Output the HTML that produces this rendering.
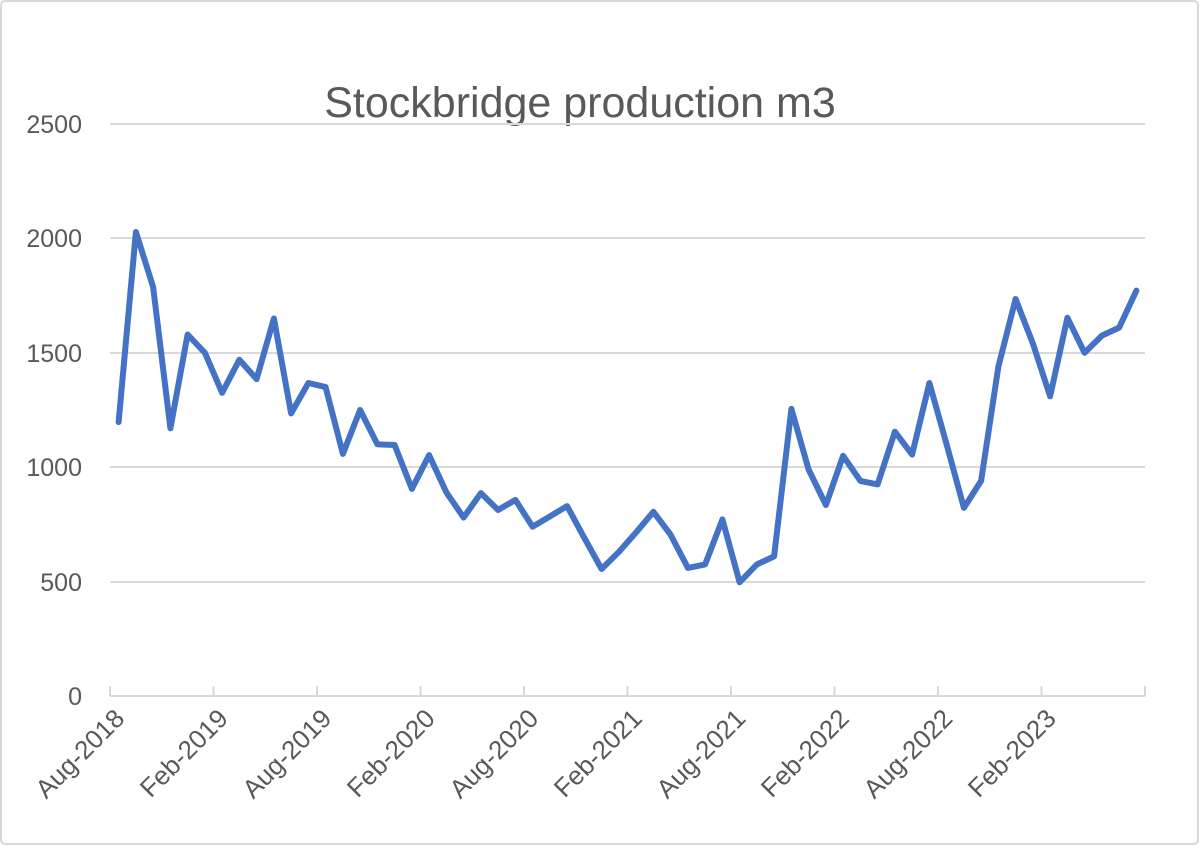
<!DOCTYPE html>
<html><head><style>
html,body{margin:0;padding:0;background:#fff;}
svg{display:block;font-family:"Liberation Sans",sans-serif;}
</style></head><body>
<svg width="1200" height="846" viewBox="0 0 1200 846" xmlns="http://www.w3.org/2000/svg">
<rect x="1" y="1" width="1197" height="843" rx="4" fill="#fff" stroke="#d9d9d9" stroke-width="2"/>
<text x="580" y="117" text-anchor="middle" font-size="43" fill="#595959">Stockbridge production m3</text>
<g stroke="#d9d9d9" stroke-width="2">
<line x1="110" y1="124" x2="1145" y2="124"/>
<line x1="110" y1="238" x2="1145" y2="238"/>
<line x1="110" y1="353" x2="1145" y2="353"/>
<line x1="110" y1="467" x2="1145" y2="467"/>
<line x1="110" y1="582" x2="1145" y2="582"/>
<line x1="110" y1="696" x2="1145" y2="696"/>
</g>
<g id="ticks" stroke="#d9d9d9" stroke-width="2"></g>
<g font-size="25" fill="#595959" text-anchor="end">
<text x="82" y="133">2500</text>
<text x="82" y="247">2000</text>
<text x="82" y="362">1500</text>
<text x="82" y="476">1000</text>
<text x="82" y="591">500</text>
<text x="82" y="705">0</text>
</g>
<g id="xl" font-size="26" fill="#595959" text-anchor="end"></g>
<polyline id="ln" fill="none" stroke="#4472c4" stroke-width="6" stroke-linejoin="round" stroke-linecap="round"/>
</svg>
<script>
var v=[1197,2028,1788,1170,1580,1500,1325,1470,1385,1650,1235,1368,1350,1058,1250,1100,1097,905,1053,890,780,887,813,857,740,785,830,690,555,630,715,805,705,560,575,772,497,575,610,1255,990,835,1050,940,925,1155,1055,1368,1100,822,940,1440,1735,1540,1310,1653,1500,1575,1610,1772];
var w=1035/60,p=[];
for(var i=0;i<v.length;i++){p.push((110+w*(i+0.5)).toFixed(1)+","+(696-v[i]*572/2500).toFixed(1));}
document.getElementById("ln").setAttribute("points",p.join(" "));
var ns="http://www.w3.org/2000/svg",t=document.getElementById("ticks"),xl=document.getElementById("xl");
var labs=["Aug-2018","Feb-2019","Aug-2019","Feb-2020","Aug-2020","Feb-2021","Aug-2021","Feb-2022","Aug-2022","Feb-2023"];
for(var k=0;k<=10;k++){var x=110+w*6*k;var l=document.createElementNS(ns,"line");l.setAttribute("x1",x);l.setAttribute("x2",x);l.setAttribute("y1",686);l.setAttribute("y2",696);t.appendChild(l);
if(k<10){var tx=document.createElementNS(ns,"text");tx.setAttribute("transform","translate("+(x+16)+",720) rotate(-45)");tx.textContent=labs[k];xl.appendChild(tx);}}
var l2=document.createElementNS(ns,"line");l2.setAttribute("x1",1145);l2.setAttribute("x2",1145);l2.setAttribute("y1",686);l2.setAttribute("y2",696);t.appendChild(l2);
</script>
</body></html>
